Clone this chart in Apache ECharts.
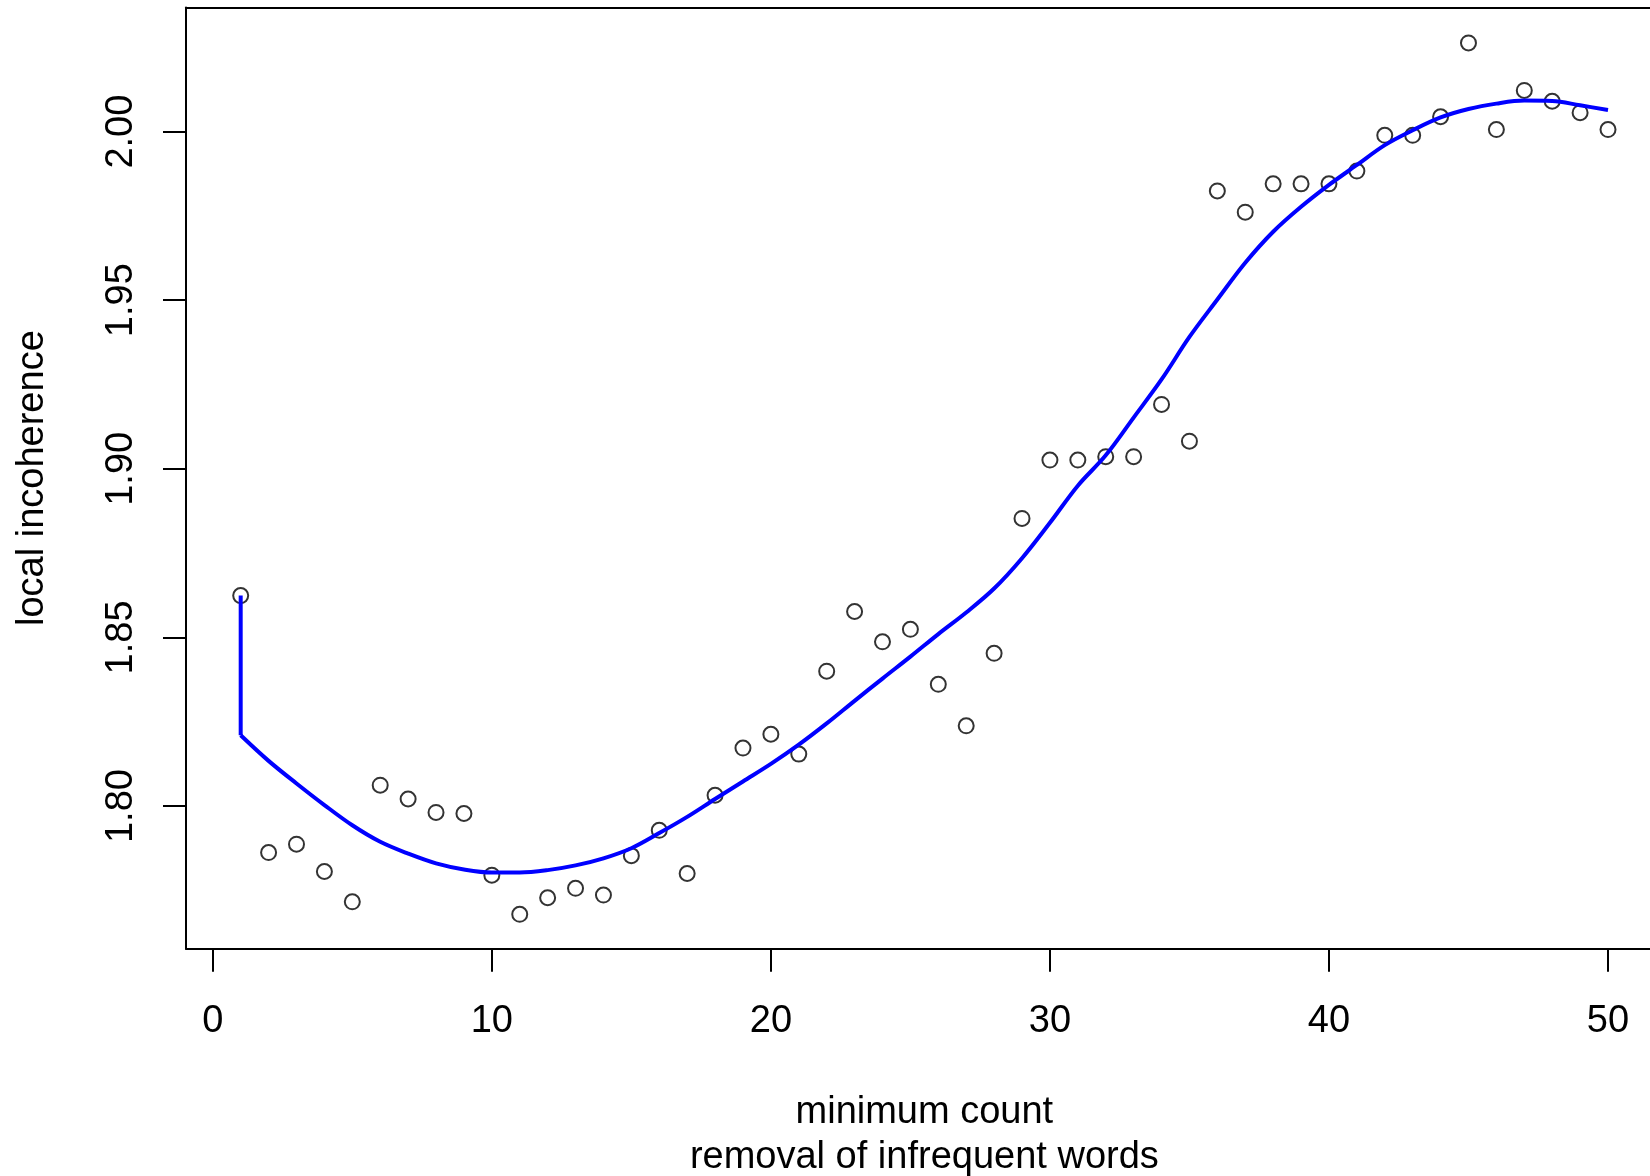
<!DOCTYPE html>
<html>
<head>
<meta charset="utf-8">
<title>local incoherence</title>
<script src="https://cdn.jsdelivr.net/npm/echarts@6.0.0/dist/echarts.min.js"></script>
<style>
    html, body { margin: 0; padding: 0; background: #fff; }
    #chart { width: 1650px; height: 1176px; }
</style>
</head>
<body>
<div id="chart"></div>
<script>
// minimum count (x) and observed local incoherence (y)
var minCount = [1, 2, 3, 4, 5, 6, 7, 8, 9, 10,
    11, 12, 13, 14, 15, 16, 17, 18, 19, 20,
    21, 22, 23, 24, 25, 26, 27, 28, 29, 30,
    31, 32, 33, 34, 35, 36, 37, 38, 39, 40,
    41, 42, 43, 44, 45, 46, 47, 48, 49, 50];
var incoherence = [1.8624, 1.7862, 1.7887, 1.7806, 1.7716, 1.8062, 1.8021, 1.7981, 1.7978, 1.7795,
    1.7679, 1.7728, 1.7756, 1.7736, 1.7853, 1.7928, 1.7800, 1.8032, 1.8172, 1.8213,
    1.8154, 1.8400, 1.8577, 1.8487, 1.8524, 1.8361, 1.8238, 1.8453, 1.8853, 1.9026,
    1.9026, 1.9036, 1.9036, 1.9191, 1.9082, 1.9824, 1.9761, 1.9845, 1.9845, 1.9845,
    1.9883, 1.9989, 1.9989, 2.0044, 2.0263, 2.0006, 2.0122, 2.0090, 2.0056, 2.0006];

// smoothed fit (blue line), starts with a vertical drop at x = 1
var fitX = [1, 1, 2, 3, 4, 5, 6, 7, 8, 9, 10,
    11, 12, 13, 14, 15, 16, 17, 18, 19, 20,
    21, 22, 23, 24, 25, 26, 27, 28, 29, 30,
    31, 32, 33, 34, 35, 36, 37, 38, 39, 40,
    41, 42, 43, 44, 45, 46, 47, 48, 49, 50];
var fitY = [1.8624, 1.8210, 1.8134, 1.8067, 1.8003, 1.7943, 1.7894, 1.7859, 1.7830, 1.7812, 1.7803,
    1.7803, 1.7810, 1.7824, 1.7845, 1.7875, 1.7920, 1.7968, 1.8021, 1.8073, 1.8125,
    1.8182, 1.8245, 1.8312, 1.8378, 1.8443, 1.8510, 1.8574, 1.8645, 1.8735, 1.8840,
    1.8950, 1.9040, 1.9152, 1.9265, 1.9391, 1.9502, 1.9611, 1.9703, 1.9777, 1.9842,
    1.9901, 1.9960, 2.0004, 2.0042, 2.0067, 2.0083, 2.0092, 2.0091, 2.0078, 2.0064];

var xTicks = [0, 10, 20, 30, 40, 50];
var yTicks = [1.80, 1.85, 1.90, 1.95, 2.00];

var font = 'Liberation Sans, Arial, Helvetica, sans-serif';

var chart = echarts.init(document.getElementById('chart'));

var points = minCount.map(function (x, i) { return [x, incoherence[i]]; });
var fit = fitX.map(function (x, i) { return [x, fitY[i]]; });
var drop = fit.slice(0, 2);     // vertical piece at x = 1
var curve = fit.slice(1);       // smooth part

var boxLine = { show: true, onZero: false, lineStyle: { color: '#000', width: 2 } };

var option = {
    animation: false,
    backgroundColor: '#fff',
    grid: {
        left: 186,
        top: 7.5,
        right: -12.7,
        bottom: 227.3,
        containLabel: false,
        outerBoundsMode: 'none',
        show: false
    },
    xAxis: [
        {
            type: 'value',
            position: 'bottom',
            min: -0.96,
            max: 51.96,
            name: 'minimum count\nremoval of infrequent words',
            nameLocation: 'middle',
            nameGap: 141,
            nameTextStyle: {
                fontFamily: font,
                fontSize: 38,
                color: '#000',
                lineHeight: 45
            },
            splitLine: { show: false },
            axisLine: boxLine,
            axisTick: {
                show: true,
                inside: false,
                length: 23,
                customValues: xTicks,
                lineStyle: { color: '#000', width: 2 }
            },
            axisLabel: {
                customValues: xTicks,
                margin: 54,
                fontFamily: font,
                fontSize: 38,
                color: '#000'
            }
        },
        {
            // top edge of the box only
            type: 'value',
            position: 'top',
            min: -0.96,
            max: 51.96,
            splitLine: { show: false },
            axisLine: boxLine,
            axisTick: { show: false },
            axisLabel: { show: false }
        }
    ],
    yAxis: {
        type: 'value',
        min: 1.7577,
        max: 2.0368,
        name: 'local incoherence',
        nameLocation: 'middle',
        nameGap: 134,
        nameRotate: 90,
        nameTextStyle: {
            fontFamily: font,
            fontSize: 38,
            color: '#000'
        },
        splitLine: { show: false },
        axisLine: boxLine,
        axisTick: {
            show: true,
            inside: false,
            length: 23,
            customValues: yTicks,
            lineStyle: { color: '#000', width: 2 }
        },
        axisLabel: {
            customValues: yTicks,
            rotate: 90,
            margin: 45,
            fontFamily: font,
            fontSize: 38,
            color: '#000',
            formatter: function (v) { return v.toFixed(2); }
        }
    },
    series: [
        {
            name: 'observed',
            type: 'scatter',
            data: points,
            symbol: 'circle',
            symbolSize: 15,
            itemStyle: {
                color: 'transparent',
                borderColor: '#000',
                borderWidth: 2
            },
            z: 2
        },
        {
            name: 'fit',
            type: 'line',
            data: drop,
            showSymbol: false,
            lineStyle: { color: '#0000ff', width: 4 },
            z: 3
        },
        {
            name: 'fit',
            type: 'line',
            data: curve,
            showSymbol: false,
            smooth: 0.35,
            lineStyle: { color: '#0000ff', width: 4, join: 'round' },
            z: 3
        }
    ]
};

chart.setOption(option);
window.addEventListener('resize', chart.resize);
</script>
</body>
</html>
